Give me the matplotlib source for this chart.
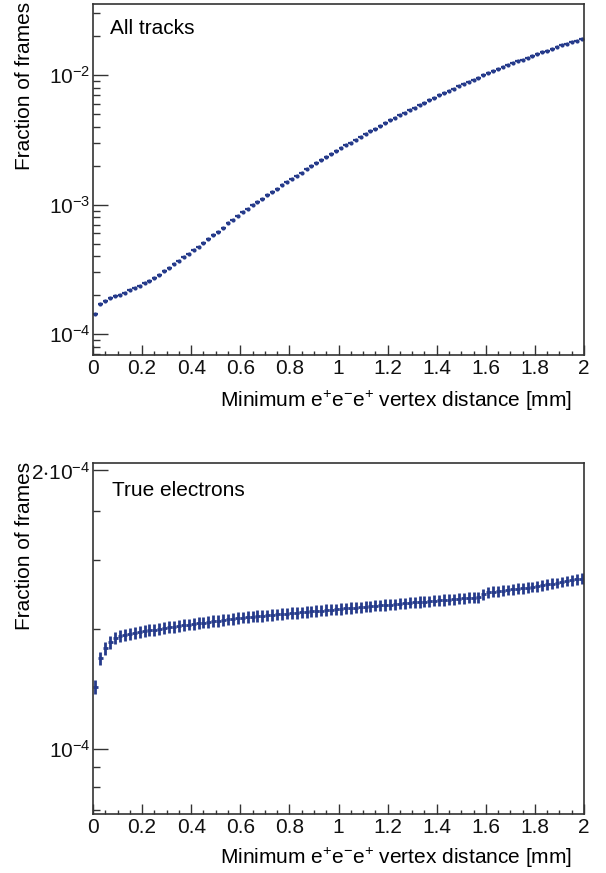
import numpy as np
import matplotlib
matplotlib.use("Agg")
import matplotlib.pyplot as plt
from matplotlib.ticker import FixedLocator, NullFormatter

plt.rcParams['font.family'] = ['Liberation Sans', 'DejaVu Sans']
plt.rcParams['mathtext.fontset'] = 'custom'
plt.rcParams['mathtext.rm'] = 'Liberation Sans'
plt.rcParams['mathtext.it'] = 'Liberation Sans:italic'
plt.rcParams['mathtext.default'] = 'regular'

# bins of the minimum vertex distance [mm]
bin_edges = np.linspace(0, 2, 101)
bin_centers = 0.5 * (bin_edges[:-1] + bin_edges[1:])

# all tracks: fraction of frames
all_tracks = [
    1.436e-4, 1.706e-4, 1.811e-4, 1.897e-4, 1.977e-4, 2.023e-4, 2.099e-4, 2.188e-4, 2.280e-4, 2.360e-4,
    2.477e-4, 2.594e-4, 2.735e-4, 2.871e-4, 3.062e-4, 3.266e-4, 3.508e-4, 3.681e-4, 3.926e-4, 4.140e-4,
    4.446e-4, 4.742e-4, 5.070e-4, 5.470e-4, 5.834e-4, 6.194e-4, 6.653e-4, 7.178e-4, 7.586e-4, 8.147e-4,
    8.730e-4, 9.311e-4, 9.886e-4, 1.045e-3, 1.110e-3, 1.178e-3, 1.250e-3, 1.326e-3, 1.405e-3, 1.489e-3,
    1.577e-3, 1.669e-3, 1.766e-3, 1.867e-3, 1.973e-3, 2.084e-3, 2.200e-3, 2.321e-3, 2.448e-3, 2.581e-3,
    2.719e-3, 2.864e-3, 3.014e-3, 3.171e-3, 3.335e-3, 3.505e-3, 3.681e-3, 3.865e-3, 4.056e-3, 4.254e-3,
    4.460e-3, 4.673e-3, 4.893e-3, 5.121e-3, 5.358e-3, 5.602e-3, 5.855e-3, 6.116e-3, 6.386e-3, 6.664e-3,
    6.950e-3, 7.247e-3, 7.551e-3, 7.864e-3, 8.185e-3, 8.516e-3, 8.856e-3, 9.204e-3, 9.561e-3, 9.927e-3,
    1.030e-2, 1.069e-2, 1.108e-2, 1.148e-2, 1.189e-2, 1.230e-2, 1.273e-2, 1.316e-2, 1.360e-2, 1.406e-2,
    1.451e-2, 1.497e-2, 1.545e-2, 1.593e-2, 1.641e-2, 1.690e-2, 1.740e-2, 1.790e-2, 1.841e-2, 1.892e-2,
]

# true electrons: fraction of frames, in units of 1e-4
true_electrons = [
    1.1674, 1.2536, 1.2852, 1.3045, 1.3175, 1.3241, 1.3290, 1.3330, 1.3363, 1.3393,
    1.3417, 1.3441, 1.3466, 1.3492, 1.3516, 1.3539, 1.3564, 1.3587, 1.3611, 1.3634,
    1.3658, 1.3681, 1.3703, 1.3725, 1.3747, 1.3767, 1.3788, 1.3809, 1.3829, 1.3850,
    1.3870, 1.3890, 1.3905, 1.3920, 1.3935, 1.3950, 1.3965, 1.3980, 1.3995, 1.4010,
    1.4025, 1.4040, 1.4055, 1.4070, 1.4085, 1.4101, 1.4116, 1.4131, 1.4146, 1.4161,
    1.4176, 1.4191, 1.4207, 1.4222, 1.4237, 1.4252, 1.4268, 1.4283, 1.4298, 1.4314,
    1.4329, 1.4344, 1.4360, 1.4375, 1.4389, 1.4404, 1.4419, 1.4433, 1.4448, 1.4463,
    1.4477, 1.4492, 1.4507, 1.4522, 1.4536, 1.4551, 1.4566, 1.4581, 1.4596, 1.4697,
    1.4770, 1.4792, 1.4814, 1.4835, 1.4857, 1.4879, 1.4901, 1.4923, 1.4945, 1.4967,
    1.4998, 1.5030, 1.5061, 1.5093, 1.5124, 1.5156, 1.5188, 1.5220, 1.5251, 1.5283,
]
true_err = 0.02  # in units of 1e-4

col = '#263b8b'
axcol = '#333333'
fs = 15
W, H = 606, 873

fig = plt.figure(figsize=(W / 100, H / 100), dpi=100)


def px_axes(left, top, right, bottom):
    return fig.add_axes([left / W, 1 - bottom / H, (right - left) / W, (bottom - top) / H])


def style_axes(ax):
    for side in ['top', 'right', 'left', 'bottom']:
        ax.spines[side].set_color(axcol)
        ax.spines[side].set_linewidth(1.2)
    ax.set_xlim(0, 2)
    ax.xaxis.set_major_locator(FixedLocator(np.arange(0, 2.01, 0.2)))
    ax.xaxis.set_minor_locator(FixedLocator(np.arange(0, 2.01, 0.05)))
    ax.set_xticklabels(['0', '0.2', '0.4', '0.6', '0.8', '1', '1.2', '1.4', '1.6', '1.8', '2'])
    ax.tick_params(axis='both', which='both', direction='in', colors=axcol,
                   top=False, right=False, labelsize=fs, labelcolor='#111111')
    ax.tick_params(axis='x', which='major', length=7.5, width=1.0, pad=3)
    ax.tick_params(axis='x', which='minor', length=3.2, width=1.0)
    ax.tick_params(axis='y', which='major', length=10.5, width=1.0, pad=2)
    ax.tick_params(axis='y', which='minor', length=5, width=1.0)


# ---- top: all tracks ----
ax1 = px_axes(93, 4, 584, 355)
ax1.set_yscale('log')
ax1.set_ylim(6.92e-5, 3.53e-2)
ax1.errorbar(bin_centers, all_tracks, xerr=0.01, fmt='o', color=col,
             markersize=3.0, elinewidth=1.6, capsize=0, markeredgewidth=0)
style_axes(ax1)
ax1.yaxis.set_major_locator(FixedLocator([1e-4, 1e-3, 1e-2]))
ax1.set_yticklabels([r'$10^{-4}$', r'$10^{-3}$', r'$10^{-2}$'])
minor_top = [m * 10.0 ** e for e in (-5, -4, -3, -2) for m in range(2, 10)]
ax1.yaxis.set_minor_locator(FixedLocator(minor_top))
ax1.yaxis.set_minor_formatter(NullFormatter())
ax1.text(110 / W, 1 - 28 / H, 'All tracks', transform=fig.transFigure,
         fontsize=fs, ha='left', va='center')

# ---- bottom: true electrons ----
ax2 = px_axes(93, 463, 584, 813.5)
ax2.set_yscale('log')
ax2.set_ylim(8.524e-5, 2.037e-4)
te = np.array(true_electrons) * 1e-4
ax2.errorbar(bin_centers, te, xerr=0.01, yerr=true_err * 1e-4, fmt='o', color=col,
             markersize=2.0, elinewidth=2.0, capsize=0, markeredgewidth=0)
style_axes(ax2)
ax2.yaxis.set_major_locator(FixedLocator([1e-4, 2e-4]))
ax2.set_yticklabels([r'$10^{-4}$', r'$2{\cdot}10^{-4}$'])
ax2.yaxis.set_minor_locator(FixedLocator([0.86e-4, 0.91e-4, 0.956e-4, 1.35e-4, 1.60e-4, 1.81e-4]))
ax2.yaxis.set_minor_formatter(NullFormatter())
ax2.text(112 / W, 1 - 490 / H, 'True electrons', transform=fig.transFigure,
         fontsize=fs, ha='left', va='center')

# axis titles (ROOT style, aligned to the axis ends)
xlab = r'Minimum e$^{+}$e$^{-}$e$^{+}$ vertex distance [mm]'
for ytop, ylab_y in [(2, 401), (462, 858)]:
    fig.text(25 / W, 1 - ytop / H, 'Fraction of frames', rotation=90,
             fontsize=fs, ha='center', va='top')
    fig.text(572 / W, 1 - ylab_y / H, xlab, fontsize=fs, ha='right', va='center')

fig.savefig('out.png', dpi=100)
